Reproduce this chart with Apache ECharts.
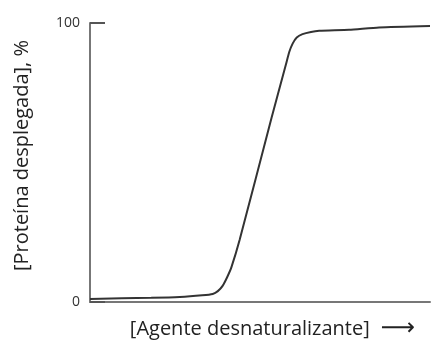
<!DOCTYPE html>
<html><head><meta charset="utf-8">
<script src="https://cdn.jsdelivr.net/npm/echarts@6/dist/echarts.min.js"></script>
<style>html,body{margin:0;padding:0;background:#fff}#c{width:439px;height:343px}</style>
</head><body><div id="c"></div>
<script>
var agentConc = [0, 18, 26.4, 33, 36.1, 37.6, 39.0, 40.3, 41.6, 44.0, 53.4, 57.6, 58.6, 59.6, 60.8, 62.5, 65, 67.4, 76.2, 85.0, 100];
var unfolded  = [1.1, 1.5, 1.8, 2.4, 2.9, 3.9, 5.8, 8.8, 12.5, 22.2, 66, 85, 89.6, 92.6, 94.8, 96.0, 96.8, 97.2, 97.6, 98.4, 98.9];
var yTicks = [0, 100];
var xName = '{t|[Agente desnaturalizante]}{a|\u27F6}';
var yName = '[Proteína desplegada], %';

var chart = echarts.init(document.getElementById('c'));
chart.setOption({
  animation: false,
  grid: {left: 90, right: 9, top: 23, bottom: 41, containLabel: false, outerBoundsMode: 'none'},
  xAxis: {
    type: 'value', min: 0, max: 100,
    axisLine: {show: true, lineStyle: {color: '#777', width: 2}},
    axisTick: {show: false}, axisLabel: {show: false}, splitLine: {show: false},
    name: xName, nameLocation: 'middle', nameGap: 15,
    nameTextStyle: {
      padding: [0, 0, 0, 25],
      rich: {
        t: {fontFamily: 'Open Sans', fontSize: 20, color: '#222', verticalAlign: 'middle'},
        a: {fontFamily: 'DejaVu Sans', fontSize: 24, color: '#222', verticalAlign: 'middle', padding: [0, 0, 0, 11]}
      }
    }
  },
  yAxis: {
    type: 'value', min: yTicks[0], max: yTicks[1], interval: 100,
    axisLine: {show: true, lineStyle: {color: '#777', width: 2}},
    axisTick: {show: true, inside: true, length: 15, lineStyle: {color: '#555', width: 2}},
    axisLabel: {fontFamily: 'Open Sans', fontSize: 14, color: '#333', margin: 10},
    splitLine: {show: false},
    name: yName, nameLocation: 'middle', nameGap: 58, nameRotate: 90,
    nameTextStyle: {fontFamily: 'Open Sans', fontSize: 20, color: '#222', padding: [0, 0, 0, 14]}
  },
  series: [{
    type: 'line', showSymbol: false, smooth: 0.2,
    data: agentConc.map(function(x, i){ return [x, unfolded[i]]; }),
    lineStyle: {color: '#333', width: 2}
  }]
});
</script></body></html>
